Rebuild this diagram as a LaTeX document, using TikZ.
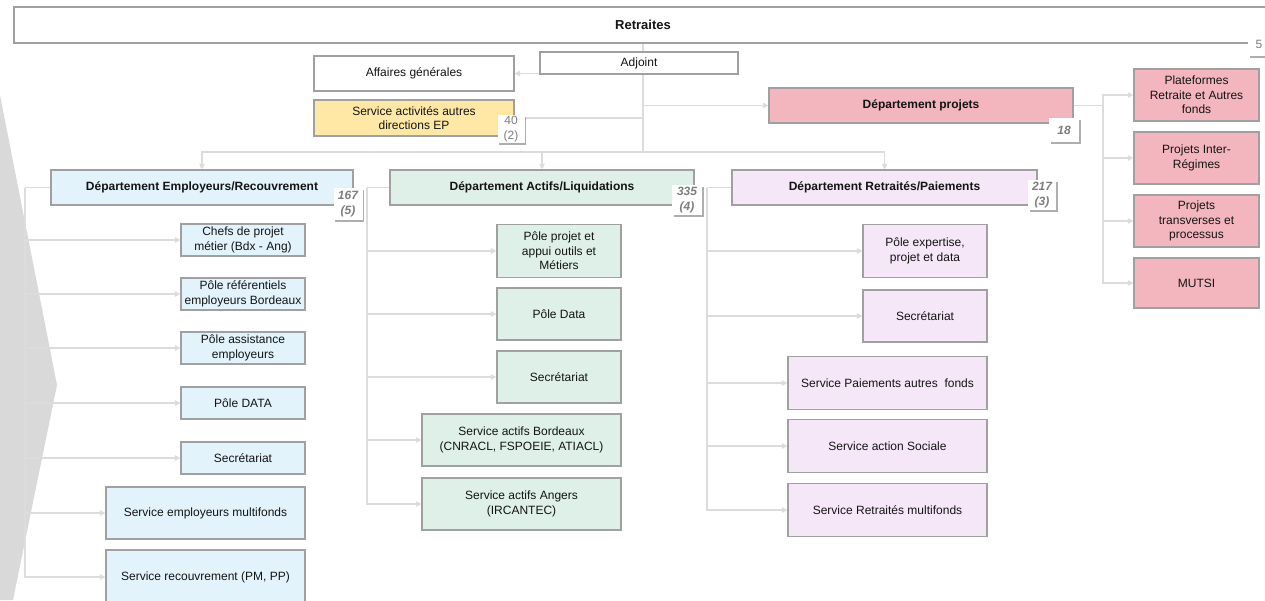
\documentclass[tikz,border=0pt]{standalone}
\usepackage{fontspec}
\setmainfont{Liberation Sans}
\usetikzlibrary{arrows.meta,shadows}
\definecolor{boxline}{RGB}{160,160,160}
\definecolor{connc}{RGB}{220,220,220}
\definecolor{empfill}{RGB}{226,243,252}
\definecolor{actfill}{RGB}{222,240,231}
\definecolor{retfill}{RGB}{245,231,247}
\definecolor{projfill}{RGB}{244,182,190}
\definecolor{yelfill}{RGB}{255,232,166}
\definecolor{chevron}{RGB}{217,217,217}
\definecolor{badgetext}{RGB}{125,125,125}
\definecolor{ink}{RGB}{20,20,20}
\newcommand\boxfont{\fontsize{12}{14.5}\selectfont}
\pgfdeclarelayer{backdrop}
\pgfdeclarelayer{links}
\pgfsetlayers{backdrop,links,main}
\tikzset{
  box/.style={draw=boxline, line width=1.2pt, inner sep=1pt, align=center,
    font=\boxfont, text=ink, yshift=-1pt},
  dept/.style={box, font=\boxfont\bfseries},
  emp/.style={box, fill=empfill},
  act/.style={box, fill=actfill},
  ret/.style={box, fill=retfill},
  proj/.style={box, fill=projfill},
  conn/.style={draw=connc, line width=1.2pt},
  arr/.style={conn, -{Triangle[length=5.5pt,width=5.5pt]}},
  badge/.style={fill=white, inner sep=1pt, align=center, text=badgetext,
    font=\fontsize{12}{14.5}\selectfont\bfseries\itshape,
    drop shadow={shadow xshift=1.8pt, shadow yshift=-1.8pt, fill=black!45, opacity=0.7}},
  plainbadge/.style={badge, font=\fontsize{12}{14.5}\selectfont},
}
\begin{document}
\begin{tikzpicture}[x=1pt, y=-1pt]
\useasboundingbox (0,0) rectangle (1265,600);
\clip (0,0) rectangle (1265,600);

% head of the chart
\node[box, fill=white, font=\fontsize{13}{15}\selectfont\bfseries, minimum width=1258pt, minimum height=36pt] (retr) at (643,24) {Retraites};
\node[box, fill=white, minimum width=198pt, minimum height=22pt] (adj) at (639,62) {Adjoint};
\node[box, fill=white, minimum width=200pt, minimum height=35pt] (aff) at (414,72.5) {Affaires générales};
\node[box, fill=yelfill, minimum width=200pt, minimum height=36pt] (sad) at (414,117) {Service activités autres\\directions EP};
\node[dept, fill=projfill, minimum width=304pt, minimum height=35pt] (dproj) at (921,104.5) {Département projets};

% departments
\node[dept, fill=empfill, minimum width=302pt, minimum height=35pt] (demp) at (202,186.5) {Département Employeurs/Recouvrement};
\node[dept, fill=actfill, minimum width=304pt, minimum height=35pt] (dact) at (542,186.5) {Département Actifs/Liquidations};
\node[dept, fill=retfill, minimum width=305pt, minimum height=35pt] (dret) at (884.5,186.5) {Département Retraités/Paiements};

% Employeurs/Recouvrement units
\node[emp, minimum width=124pt, minimum height=32pt] (e1) at (243,239) {Chefs de projet\\métier (Bdx - Ang)};
\node[emp, minimum width=124pt, minimum height=32pt] (e2) at (243,293) {Pôle référentiels\\employeurs Bordeaux};
\node[emp, minimum width=124pt, minimum height=32pt] (e3) at (243,347) {Pôle assistance\\employeurs};
\node[emp, minimum width=124pt, minimum height=32pt] (e4) at (243,402) {Pôle DATA};
\node[emp, minimum width=124pt, minimum height=32pt] (e5) at (243,457) {Secrétariat};
\node[emp, minimum width=199pt, minimum height=52pt] (e6) at (205.5,512) {Service employeurs multifonds};
\node[emp, minimum width=199pt, minimum height=54pt] (e7) at (205.5,576) {Service recouvrement (PM, PP)};

% Actifs/Liquidations units
\node[act, minimum width=124pt, minimum height=53pt] (a1) at (559,250) {Pôle projet et\\appui outils et\\Métiers};
\node[act, minimum width=124pt, minimum height=52pt] (a2) at (559,313) {Pôle Data};
\node[act, minimum width=124pt, minimum height=52pt] (a3) at (559,376) {Secrétariat};
\node[act, minimum width=199pt, minimum height=52pt] (a4) at (521.5,439) {Service actifs Bordeaux\\(CNRACL, FSPOEIE, ATIACL)};
\node[act, minimum width=199pt, minimum height=52pt] (a5) at (521.5,503) {Service actifs Angers\\(IRCANTEC)};

% Retraités/Paiements units
\node[ret, minimum width=124pt, minimum height=53pt] (r1) at (925,250) {Pôle expertise,\\projet et data};
\node[ret, minimum width=124pt, minimum height=52pt] (r2) at (925,315) {Secrétariat};
\node[ret, minimum width=199pt, minimum height=53pt] (r3) at (887.5,382) {Service Paiements autres\ \ fonds};
\node[ret, minimum width=199pt, minimum height=53pt] (r4) at (887.5,445) {Service action Sociale};
\node[ret, minimum width=199pt, minimum height=53pt] (r5) at (887.5,509) {Service Retraités multifonds};

% projets units
\node[proj, minimum width=125pt, minimum height=52pt] (p1) at (1196.5,94) {Plateformes\\Retraite et Autres\\fonds};
\node[proj, minimum width=125pt, minimum height=52pt] (p2) at (1196.5,157) {Projets Inter-\\Régimes};
\node[proj, minimum width=125pt, minimum height=52pt] (p3) at (1196.5,220) {Projets\\transverses et\\processus};
\node[proj, minimum width=125pt, minimum height=50pt] (p4) at (1196.5,282) {MUTSI};

% staff counts
\node[plainbadge, minimum width=22pt, minimum height=24pt] (b5) at (1259,44) {5};
\node[plainbadge, minimum width=27pt, minimum height=28pt] (b40) at (511,129) {40\\(2)};
\node[badge, minimum width=30pt, minimum height=24pt] (b18) at (1064,130) {18};
\node[badge, minimum width=29pt, minimum height=32pt] (b167) at (348,204) {167\\(5)};
\node[badge, minimum width=30pt, minimum height=30pt] (b335) at (687,200) {335\\(4)};
\node[badge, minimum width=28pt, minimum height=30pt] (b217) at (1042,195) {217\\(3)};

% trunk positions
\coordinate (bus) at (643,152);
\coordinate (trE) at (25,0);
\coordinate (trA) at (367,0);
\coordinate (trR) at (707,0);
\coordinate (trP) at (1103,0);

\begin{pgfonlayer}{backdrop}
  \fill[white] (0,0) rectangle (1265,600);
  % chevron on the left edge
  \fill[chevron] (0,95) -- (57,385) -- (13,600) -- (0,600) -- cycle;
\end{pgfonlayer}

\begin{pgfonlayer}{links}
  \draw[conn] (retr.south) -- (bus);
  \draw[arr] (retr.south |- aff.east) -- (aff.east);
  \draw[arr] (retr.south |- sad.east) -- (sad.east);
  \draw[arr] (retr.south |- dproj.west) -- (dproj.west);
  \foreach \d in {demp,dact,dret} \draw[arr] (bus) -| (\d.north);

  \draw[conn] (demp.west) -- (demp.west -| trE);
  \foreach \c in {e1,e2,e3,e4,e5,e6,e7} \draw[arr] (demp.west -| trE) |- (\c.west);

  \draw[conn] (dact.west) -- (dact.west -| trA);
  \foreach \c in {a1,a2,a3,a4,a5} \draw[arr] (dact.west -| trA) |- (\c.west);

  \draw[conn] (dret.west) -- (dret.west -| trR);
  \foreach \c in {r1,r2,r3,r4,r5} \draw[arr] (dret.west -| trR) |- (\c.west);

  \draw[conn] (dproj.east) -- (dproj.east -| trP);
  \foreach \c in {p1,p2,p3,p4} \draw[arr] (dproj.east -| trP) |- (\c.west);
\end{pgfonlayer}
\end{tikzpicture}
\end{document}
